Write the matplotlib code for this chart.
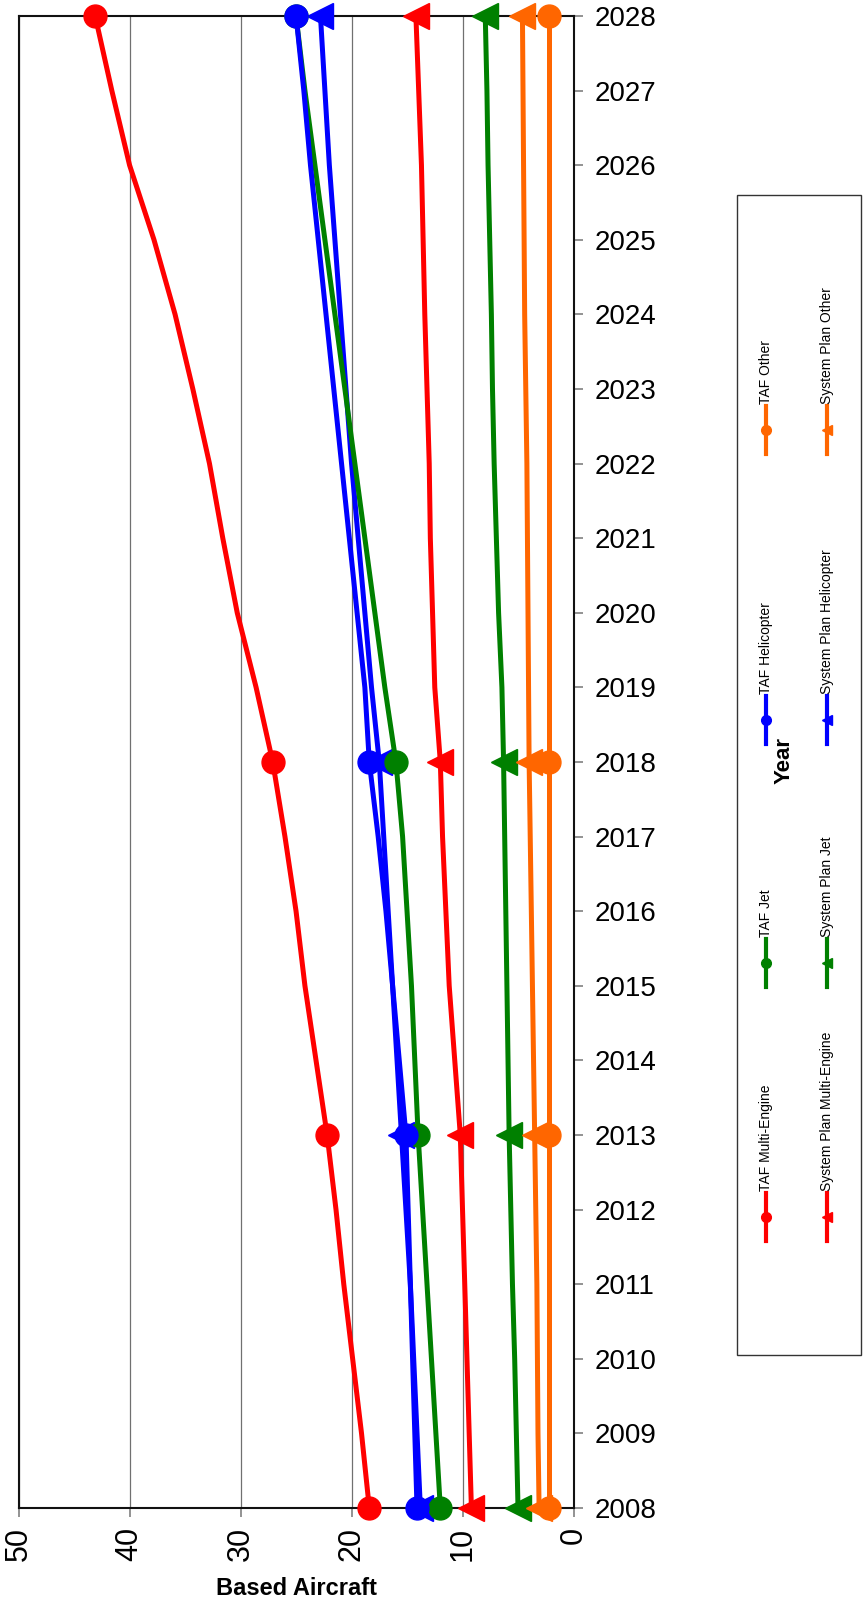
import matplotlib
matplotlib.use("Agg")
import matplotlib.pyplot as plt
from matplotlib.lines import Line2D
from matplotlib.patches import Rectangle

plt.rcParams['font.family'] = ['Liberation Sans', 'DejaVu Sans']

years = list(range(2008, 2029))

taf_multi = [18.4, 19.1, 19.9, 20.7, 21.4, 22.2, 23.2, 24.2, 25.0, 26.0, 27.1,
             28.6, 30.3, 31.6, 32.8, 34.3, 35.9, 37.8, 40.0, 41.6, 43.1]
sp_multi = [9.2, 9.4, 9.6, 9.8, 10.0, 10.2, 10.7, 11.2, 11.5, 11.8, 12.0,
            12.5, 12.7, 12.9, 13.0, 13.2, 13.4, 13.55, 13.7, 13.95, 14.2]
taf_jet = [12.0, 12.4, 12.8, 13.2, 13.6, 14.0, 14.3, 14.6, 15.0, 15.4, 16.0,
           17.0, 17.9, 18.8, 19.7, 20.6, 21.5, 22.4, 23.3, 24.2, 25.0]
sp_jet = [5.0, 5.15, 5.3, 5.5, 5.65, 5.8, 5.9, 6.0, 6.1, 6.2, 6.3,
          6.45, 6.75, 6.95, 7.15, 7.3, 7.4, 7.55, 7.7, 7.8, 7.95]
taf_heli = [14.1, 14.3, 14.5, 14.7, 14.9, 15.1, 15.7, 16.3, 16.9, 17.6, 18.4,
            18.8, 19.5, 20.2, 20.9, 21.6, 22.3, 23.0, 23.7, 24.3, 25.0]
sp_heli = [13.8, 14.1, 14.4, 14.7, 15.1, 15.5, 15.9, 16.3, 16.7, 17.1, 17.5,
           18.2, 18.8, 19.4, 20.0, 20.5, 21.0, 21.5, 22.0, 22.4, 22.8]
taf_other = [2.2, 2.2, 2.2, 2.2, 2.2, 2.2, 2.2, 2.2, 2.2, 2.2, 2.2,
             2.2, 2.2, 2.2, 2.2, 2.2, 2.2, 2.2, 2.2, 2.2, 2.2]
sp_other = [3.1, 3.2, 3.25, 3.3, 3.4, 3.5, 3.6, 3.7, 3.8, 3.9, 4.0,
            4.05, 4.1, 4.15, 4.2, 4.3, 4.4, 4.45, 4.5, 4.55, 4.6]

value_ticks = [0, 10, 20, 30, 40, 50]
marker_idx = [0, 5, 10, 20]

RED = '#FF0000'
BLUE = '#0000FF'
GREEN = '#008000'
ORANGE = '#FF6600'

# system plan series drawn first, TAF on top
sp_series = [
    ("System Plan Multi-Engine", sp_multi, RED),
    ("System Plan Jet", sp_jet, GREEN),
    ("System Plan Helicopter", sp_heli, BLUE),
    ("System Plan Other", sp_other, ORANGE),
]
taf_series = [
    ("TAF Multi-Engine", taf_multi, RED),
    ("TAF Jet", taf_jet, GREEN),
    ("TAF Helicopter", taf_heli, BLUE),
    ("TAF Other", taf_other, ORANGE),
]

W, H = 863, 1598
fig = plt.figure(figsize=(W / 100, H / 100), dpi=100)

left, right, top, bottom = 18.6, 573.5, 16, 1508
ax = fig.add_axes([left / W, 1 - bottom / H, (right - left) / W, (bottom - top) / H])

for label, vals, col in sp_series:
    ax.plot(vals, years, color=col, lw=3.6, marker='<', ms=19,
            markevery=marker_idx, clip_on=False, zorder=3)
for label, vals, col in taf_series:
    ax.plot(vals, years, color=col, lw=3.6, marker='o', ms=16.5,
            markevery=marker_idx, clip_on=False, zorder=3)

ax.set_xlim(50, 0)
ax.set_ylim(2008, 2028)
ax.set_xticks(value_ticks)
ax.set_yticks(years)
ax.yaxis.tick_right()
ax.grid(axis='x', color='#707070', lw=0.9)
ax.set_axisbelow(True)
for s in ax.spines.values():
    s.set_linewidth(1.5)
    s.set_color('#111111')

ax.tick_params(axis='y', direction='out', length=6.5, width=1.2, color='#808080',
               pad=9, labelsize=20)
ax.tick_params(axis='x', direction='out', length=6.5, width=1.2, color='#808080',
               pad=7, labelsize=22, labelrotation=90)

ax.set_xlabel("Based Aircraft", fontsize=17, fontweight='bold')
ax.xaxis.set_label_coords(0.5, -0.046)


def px(x, y):
    return x / W, 1 - y / H


# legend box
bx0, by0, bx1, by1 = 737, 195, 861, 1355
fig.patches.append(Rectangle(px(bx0, by1), (bx1 - bx0) / W, (by1 - by0) / H,
                             transform=fig.transFigure, facecolor='white',
                             edgecolor='#333333', lw=1.0, zorder=1))

row_y = [1217, 963, 720, 430]  # Multi, Jet, Heli, Other handle centres
col_x = [766, 827]             # TAF, System Plan
for i, yc in enumerate(row_y):
    for j, (series, mk, ms) in enumerate([(taf_series, 'o', 7), (sp_series, '<', 7.5)]):
        label, _, col = series[i]
        x = col_x[j]
        fig.add_artist(Line2D([x / W, x / W], [1 - (yc + 24) / H, 1 - (yc - 24) / H],
                              transform=fig.transFigure, color=col, lw=3, zorder=2))
        fig.add_artist(Line2D([x / W], [1 - yc / H], transform=fig.transFigure,
                              color=col, marker=mk, ms=ms, lw=0, zorder=2))
        fig.text(x / W, 1 - (yc - 26) / H, label, rotation=90, ha='center',
                 va='bottom', fontsize=10, zorder=3)

fig.text(784 / W, 1 - 760 / H, "Year", rotation=90, ha='center', va='center',
         fontsize=16, fontweight='bold', zorder=3)

fig.savefig("out.png", dpi=100)
